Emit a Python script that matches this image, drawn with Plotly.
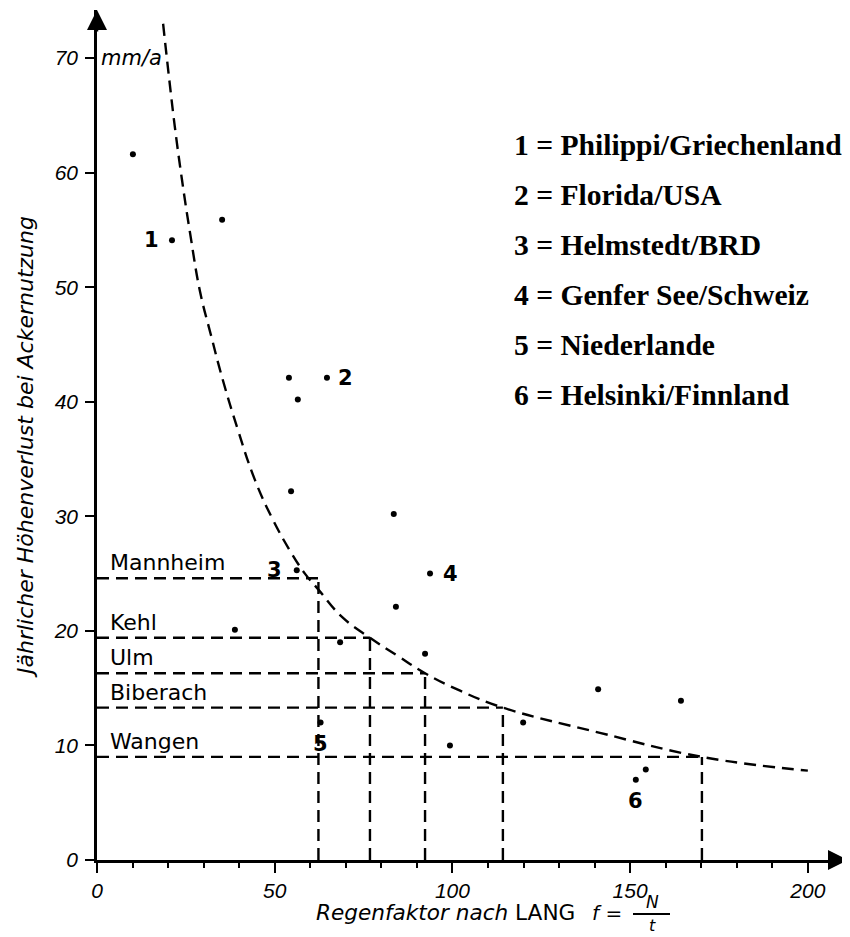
import plotly.graph_objects as go

# ---------------- data ----------------
point_x = [10.1, 21.1, 35.2, 54.0, 64.7, 56.5, 54.6, 83.5, 56.2, 93.7, 38.8,
           68.4, 84.1, 92.3, 62.9, 141.0, 164.3, 119.9, 99.3, 154.4, 151.6]
point_y = [61.6, 54.1, 55.9, 42.1, 42.1, 40.2, 32.2, 30.2, 25.3, 25.0, 20.1,
           19.0, 22.1, 18.0, 12.0, 14.9, 13.9, 12.0, 10.0, 7.9, 7.0]

site_ids = ["1", "2", "3", "4", "5", "6"]
site_x = [21.1, 64.7, 56.2, 93.7, 62.9, 151.6]
site_y = [54.1, 42.1, 25.3, 25.0, 12.0, 7.0]
site_names = ["Philippi/Griechenland", "Florida/USA", "Helmstedt/BRD",
              "Genfer See/Schweiz", "Niederlande", "Helsinki/Finnland"]

curve_x = [18.6, 20.2, 21.9, 23.9, 26.2, 29.0, 32.0, 35.4, 39.7, 44.4, 49.5,
           54.3, 58.5, 62.3, 69.0, 76.8, 85.2, 92.3, 102.0, 114.2, 141.5,
           170.2, 200.0]
curve_y = [73.0, 68.5, 64.0, 59.4, 54.7, 49.6, 45.9, 41.9, 37.5, 33.2, 29.7,
           27.0, 25.0, 23.6, 21.2, 19.4, 17.7, 16.3, 14.8, 13.3, 11.1,
           9.0, 7.8]

city_names = ["Mannheim", "Kehl", "Ulm", "Biberach", "Wangen"]
city_x = [62.3, 76.8, 92.3, 114.2, 170.2]
city_y = [24.6, 19.4, 16.3, 13.3, 9.0]

x_ticks = [0, 50, 100, 150, 200]
y_ticks = [0, 10, 20, 30, 40, 50, 60, 70]

X_MAX = 211.3
Y_MAX = 74.2

DASH = "12px,7px"
SANS = "Liberation Sans"
WIDE = "DejaVu Sans"

# the page body adds an 8px offset; plot area in page pixels: left 97, top 10, 751 x 850
PL, PT, PW, PH = 97, 10, 751, 850


def px(xp):
    return (xp - PL) / PW


def py(yp):
    return (PT + PH - yp) / PH


fig = go.Figure()

# guide lines (horizontal from y-axis to curve, vertical from x-axis to curve)
gx, gy = [], []
for cx, cy in zip(city_x, city_y):
    gx += [0, cx, None, cx, cx, None]
    gy += [cy, cy, None, 0, cy, None]
fig.add_trace(go.Scatter(x=gx, y=gy, mode="lines",
                         line=dict(color="black", width=2.4, dash=DASH),
                         hoverinfo="skip", showlegend=False))

# dashed curve
fig.add_trace(go.Scatter(x=curve_x, y=curve_y, mode="lines",
                         line=dict(color="black", width=2.4, dash=DASH,
                                   shape="spline", smoothing=1.2),
                         hoverinfo="skip", showlegend=False))

# measured points
fig.add_trace(go.Scatter(x=point_x, y=point_y, mode="markers",
                         marker=dict(color="black", size=6),
                         showlegend=False))

annotations = []

# numbered site labels next to their points
shifts = [(-20, 0), (19, 0), (-22, 0), (20, 0), (0, -21), (0, -21)]
for sid, sx, sy, (dx, dy) in zip(site_ids, site_x, site_y, shifts):
    annotations.append(dict(x=sx, y=sy, xref="x", yref="y", text=sid,
                            showarrow=False, xshift=dx, yshift=dy,
                            xanchor="center", yanchor="middle",
                            font=dict(family=WIDE, size=21, color="black", weight="bold")))

# city labels above their lines
for name, cy in zip(city_names, city_y):
    annotations.append(dict(x=3.2, y=cy, xref="x", yref="y", text=name,
                            showarrow=False, xanchor="left", yanchor="bottom",
                            yshift=1,
                            font=dict(family=WIDE, size=22, color="black")))

# unit
annotations.append(dict(x=0.5, y=70, xref="x", yref="y", text="mm/a",
                        showarrow=False, xanchor="left", yanchor="middle",
                        font=dict(family=WIDE, size=21, color="black", style="italic")))

# axis arrows
annotations.append(dict(x=X_MAX, y=0, ax=X_MAX - 6, ay=0, xref="x", yref="y",
                        axref="x", ayref="y", showarrow=True, arrowhead=2,
                        arrowsize=1.6, arrowwidth=2.5, arrowcolor="black", text=""))
annotations.append(dict(x=0, y=Y_MAX, ax=0, ay=Y_MAX - 2, xref="x", yref="y",
                        axref="x", ayref="y", showarrow=True, arrowhead=2,
                        arrowsize=1.6, arrowwidth=2.5, arrowcolor="black", text=""))

# listing on the right
for i, (sid, nm) in enumerate(zip(site_ids, site_names)):
    annotations.append(dict(x=px(512), y=py(145 + i * 50),
                            xref="paper", yref="paper",
                            text=f"{sid} = {nm}", showarrow=False,
                            xanchor="left", yanchor="middle",
                            font=dict(family="Liberation Serif", size=29.6,
                                      color="black", weight="bold")))

# y title
annotations.append(dict(x=px(25), y=py(447), xref="paper", yref="paper",
                        text="Jährlicher Höhenverlust bei Ackernutzung",
                        textangle=-90, showarrow=False,
                        xanchor="center", yanchor="middle",
                        font=dict(family=WIDE, size=22, color="black", style="italic")))

# x title
annotations.append(dict(x=px(577), y=py(913), xref="paper", yref="paper",
                        text="<i>Regenfaktor nach</i> LANG", showarrow=False,
                        xanchor="right", yanchor="middle",
                        font=dict(family=WIDE, size=21.6, color="black")))
annotations.append(dict(x=px(607), y=py(913), xref="paper", yref="paper",
                        text="<i>f</i> =", showarrow=False,
                        xanchor="center", yanchor="middle",
                        font=dict(family=WIDE, size=20, color="black")))
annotations.append(dict(x=px(652), y=py(902), xref="paper", yref="paper",
                        text="<i>N</i>", showarrow=False,
                        xanchor="center", yanchor="middle",
                        font=dict(family=WIDE, size=17, color="black")))
annotations.append(dict(x=px(652), y=py(925), xref="paper", yref="paper",
                        text="<i>t</i>", showarrow=False,
                        xanchor="center", yanchor="middle",
                        font=dict(family=WIDE, size=16, color="black")))

shapes = [dict(type="line", xref="paper", yref="paper",
               x0=px(633), x1=px(670), y0=py(914), y1=py(914),
               line=dict(color="black", width=2))]

fig.update_layout(
    width=850, height=937,
    margin=dict(l=PL - 8, r=850 - (PL - 8) - PW, t=PT - 8, b=937 - (PT - 8) - PH),
    paper_bgcolor="white", plot_bgcolor="white",
    showlegend=False,
    annotations=annotations,
    shapes=shapes,
    xaxis=dict(range=[0, X_MAX], showgrid=False, zeroline=False, automargin=False,
               showline=True, linecolor="black", linewidth=2.5,
               tickvals=x_ticks, ticktext=[str(v) for v in x_ticks],
               ticks="outside", ticklen=10, tickwidth=2, tickcolor="black",
               minor=dict(dtick=10, ticks="outside", ticklen=5, tickwidth=1.5,
                          tickcolor="black", showgrid=False),
               tickfont=dict(family=SANS, size=21, color="black", style="italic")),
    yaxis=dict(range=[0, Y_MAX], showgrid=False, zeroline=False, automargin=False,
               showline=True, linecolor="black", linewidth=2.5,
               tickvals=y_ticks, ticktext=[str(v) for v in y_ticks],
               ticks="outside", ticklen=9, tickwidth=2, tickcolor="black",
               ticklabelstandoff=3,
               tickfont=dict(family=SANS, size=21, color="black", style="italic")),
)

fig.write_html("out.html")
